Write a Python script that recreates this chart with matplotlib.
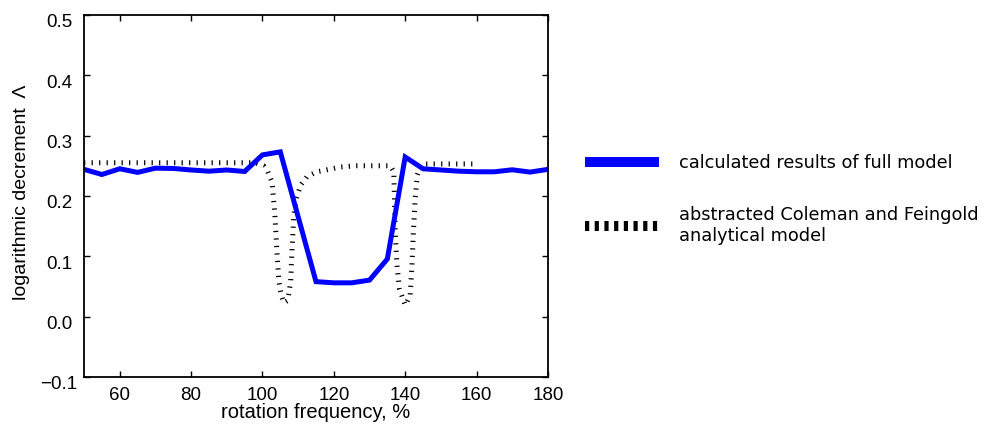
import matplotlib
matplotlib.use("Agg")
import matplotlib.pyplot as plt
import matplotlib.transforms as mtransforms
from matplotlib.lines import Line2D

# full model, sampled every 5 % of rotation frequency
freq_full = [50, 55, 60, 65, 70, 75, 80, 85, 90, 95, 100, 105,
             115, 120, 125, 130, 135, 140, 145, 150, 155, 160, 165, 170, 175, 180]
decr_full = [0.244, 0.2355, 0.245, 0.239, 0.246, 0.2455, 0.243, 0.241, 0.243, 0.2405, 0.268, 0.273,
             0.058, 0.056, 0.056, 0.0605, 0.0955, 0.2645, 0.245, 0.243, 0.241, 0.240, 0.240, 0.2433, 0.2395, 0.244]

# Coleman and Feingold analytical curve
freq_cf = [50, 60, 70, 80, 90, 98, 100.3, 101.5, 102.7, 103.5, 104.0, 104.6, 105.3, 106.0,
           107.1, 107.9, 108.3, 108.8, 109.5, 110.7, 112.5, 115.3, 118.6, 122, 126,
           135.8, 136.8, 137.0, 137.2, 137.7, 138.4, 140.0, 141.4, 141.9, 142.3, 142.8,
           143.4, 144.2, 145.6, 160]
decr_cf = [0.255, 0.255, 0.255, 0.255, 0.255, 0.255, 0.250, 0.240, 0.223, 0.168, 0.113, 0.058, 0.035, 0.023,
           0.027, 0.058, 0.113, 0.168, 0.196, 0.218, 0.232, 0.240, 0.244, 0.248, 0.250,
           0.250, 0.240, 0.196, 0.140, 0.085, 0.046, 0.019, 0.035, 0.085, 0.140, 0.196,
           0.235, 0.248, 0.253, 0.253]

x_ticks = [60, 80, 100, 120, 140, 160, 180]
y_ticks = [-0.1, 0.0, 0.1, 0.2, 0.3, 0.4, 0.5]
y_ticklabels = ["\u22120.1", "0.0", "0.1", "0.2", "0.3", "0.4", "0.5"]

label_full = "calculated results of full model"
label_cf = "abstracted Coleman and Feingold\nanalytical model"

plt.rcParams["font.family"] = ["Liberation Sans", "DejaVu Sans"]

fig = plt.figure(figsize=(9.89, 4.25), dpi=100)
ax = fig.add_axes([0.085, 0.113, 0.469, 0.852])

ax.plot(freq_cf, decr_cf, color="black", lw=3.6, dashes=(0.25, 1.25),
        dash_capstyle="butt")
ax.plot(freq_full, decr_full, color="#0000ff", lw=3.6, solid_joinstyle="miter")

ax.set_xlim(50, 180)
ax.set_ylim(-0.1, 0.5)
ax.set_xticks(x_ticks)
ax.set_yticks(y_ticks)
ax.set_yticklabels(y_ticklabels)
ax.tick_params(direction="in", top=True, right=True, length=4, width=1,
               labelsize=13.5)
ax.xaxis.set_tick_params(pad=7)
ax.yaxis.set_tick_params(pad=18)
# y tick labels sit centred and a little below their ticks
shift = mtransforms.ScaledTranslation(0, -6 / 100, fig.dpi_scale_trans)
for lab in ax.get_yticklabels():
    lab.set_horizontalalignment("center")
    lab.set_transform(lab.get_transform() + shift)
for s in ax.spines.values():
    s.set_linewidth(1.3)

ax.set_xlabel("rotation frequency, %", fontsize=14.5, va="center")
ax.set_ylabel("logarithmic decrement  \u039b", fontsize=14, va="center")
ax.xaxis.set_label_coords(0.5, -0.097)
ax.yaxis.set_label_coords(-0.134, 0.51)

handles = [
    Line2D([], [], color="#0000ff", lw=7.2, solid_capstyle="butt"),
    Line2D([], [], color="black", lw=7.2, dashes=(0.42, 0.55), dash_capstyle="butt"),
]
fig.legend(handles, [label_full, label_cf], loc="upper left",
           bbox_to_anchor=(0.575, 0.675), frameon=False,
           prop={"family": "DejaVu Sans", "size": 12.8},
           handlelength=4.2, handletextpad=1.1, labelspacing=1.9)

fig.savefig("out.png", dpi=100)
